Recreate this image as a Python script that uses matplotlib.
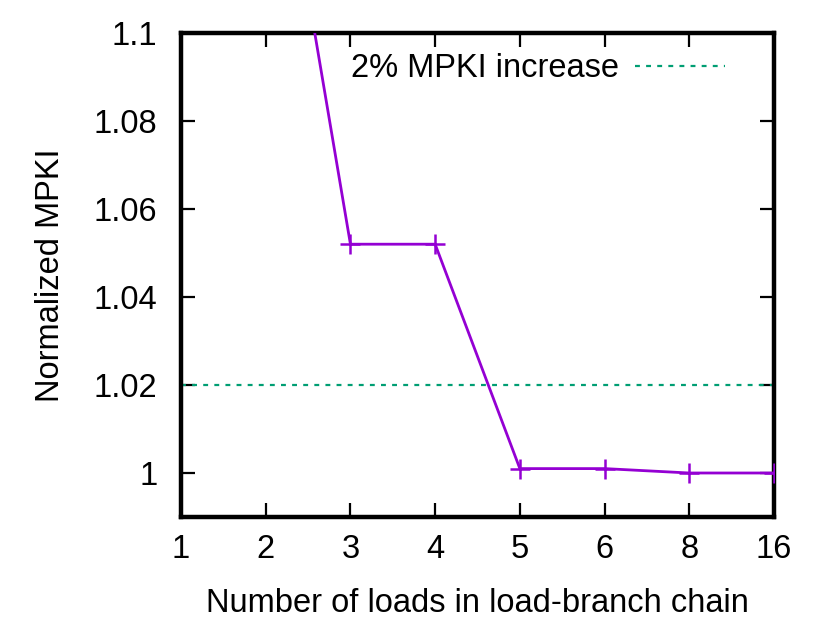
import numpy as np
import matplotlib
matplotlib.use("Agg")
import matplotlib.pyplot as plt

plt.rcParams['font.family'] = ['Liberation Sans', 'DejaVu Sans']

chain_labels = ['1', '2', '3', '4', '5', '6', '8', '16']
norm_mpki = [1.30, 1.166, 1.052, 1.052, 1.001, 1.001, 1.000, 1.000]
threshold = 1.02
y_ticks = [1.0, 1.02, 1.04, 1.06, 1.08, 1.1]
y_tick_labels = ['1', '1.02', '1.04', '1.06', '1.08', '1.1']

fs = 23.5

fig = plt.figure(figsize=(8.3, 6.23), dpi=100)
ax = fig.add_axes([181 / 830, 1 - 517 / 623, (774 - 181) / 830, (517 - 33) / 623])

xpos = np.arange(len(chain_labels))
ax.plot(xpos, norm_mpki, color='#9400D3', lw=2.0, marker='+', ms=14, mew=1.8,
        zorder=3)
ax.axhline(threshold, color='#009E73', lw=1.6, ls=(0, (2.2, 2.8)),
           label='2% MPKI increase', zorder=2)

ax.set_xlim(0, len(chain_labels) - 1)
ax.set_ylim(0.99, 1.1)
ax.set_xticks(xpos)
ax.set_xticklabels(chain_labels)
ax.set_yticks(y_ticks)
ax.set_yticklabels(y_tick_labels)

ax.tick_params(direction='in', length=10, width=1.6, labelsize=fs,
               top=True, right=True)
ax.tick_params(axis='x', pad=12)
ax.tick_params(axis='y', pad=17)
for s in ax.spines.values():
    s.set_linewidth(3.2)

ax.set_xlabel('Number of loads in load-branch chain', fontsize=fs, labelpad=17)
ax.set_ylabel('Normalized MPKI', fontsize=fs, labelpad=20)

ax.legend(loc='upper right', frameon=False, fontsize=fs, markerfirst=False,
          handlelength=2.75, handletextpad=0.5, borderaxespad=0,
          bbox_to_anchor=(0.939, 0.985))

fig.savefig('out.png', dpi=100)
